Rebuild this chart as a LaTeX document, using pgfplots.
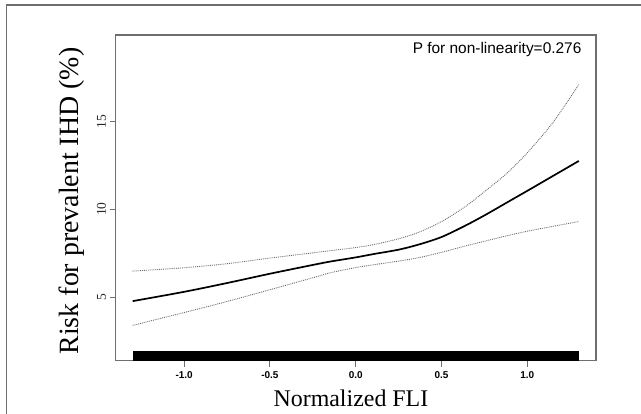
\documentclass[border=0pt]{standalone}
\usepackage{fontspec}
\setmainfont{Liberation Serif}
\newfontfamily\arial{Liberation Sans}
\usepackage{pgfplots}
\pgfplotsset{compat=1.18}
\usepackage{pgfplotstable}
\definecolor{axgray}{RGB}{110,110,110}

% spline fit: x, estimate, upper CI, lower CI
\pgfplotstableread{
x      est    up     lo
-1.30  4.77   6.48   3.39
-1.00  5.30   6.67   4.12
-0.75  5.80   6.90   4.75
-0.50  6.33   7.22   5.42
-0.25  6.83   7.52   6.10
-0.15  7.02   7.64   6.38
0.00   7.26   7.82   6.68
0.11   7.46   8.00   6.85
0.25   7.70   8.32   7.05
0.37   8.00   8.70   7.25
0.50   8.42   9.30   7.55
0.635  9.05   10.13  7.90
0.75   9.65   11.00  8.18
0.875  10.35  12.00  8.48
1.00   11.05  13.22  8.75
1.15   11.90  14.95  9.03
1.30   12.75  17.10  9.30
}\fli

\begin{document}
\begin{tikzpicture}
\useasboundingbox (0,0) rectangle (641bp,414bp);
\draw[axgray, line width=1.3bp] (6.5bp,0) -- (6.5bp,409bp) -- (641bp,409bp);
\begin{axis}[
  at={(115.5bp,53.5bp)}, anchor=south west,
  scale only axis, width=480.5bp, height=325.5bp,
  xmin=-1.4, xmax=1.4, ymin=1.39, ymax=19.92,
  axis line style={axgray, line width=1.1bp},
  tick align=outside, xtick pos=bottom, ytick pos=left,
  major tick length=6bp,
  tick style={axgray, line width=1bp},
  xtick={-1,-0.5,0,0.5,1}, xticklabels={-1.0,-0.5,0.0,0.5,1.0},
  ytick={5,10,15}, yticklabels={5,10,15},
  xticklabel style={font=\arial\bfseries\fontsize{10}{11}\selectfont, yshift=-2bp},
  yticklabel style={font=\fontsize{13.5}{14}\selectfont, rotate=90, anchor=south, text=black!85},
  xlabel={Normalized FLI},
  ylabel={Risk for prevalent IHD (\%)},
  xlabel style={font=\fontsize{24}{26}\selectfont, at={(axis description cs:0.49,-0.115)}, anchor=center},
  ylabel style={font=\fontsize{28}{30}\selectfont, at={(axis description cs:-0.0905,0.49)}, anchor=center},
]
\addplot[fill=black, draw=none] coordinates {(-1.3,1.39) (1.3,1.39) (1.3,1.92) (-1.3,1.92)} -- cycle;
\addplot[black, line width=1.7bp, smooth] table[x=x, y=est] {\fli};
\addplot[gray!85!black, line width=0.9bp, densely dotted, smooth] table[x=x, y=up] {\fli};
\addplot[gray!85!black, line width=0.9bp, densely dotted, smooth] table[x=x, y=lo] {\fli};
\node[anchor=east, font=\arial\fontsize{15.5}{17}\selectfont] at (axis description cs:0.977,0.954) {P for non-linearity=0.276};
\end{axis}
\end{tikzpicture}
\end{document}
